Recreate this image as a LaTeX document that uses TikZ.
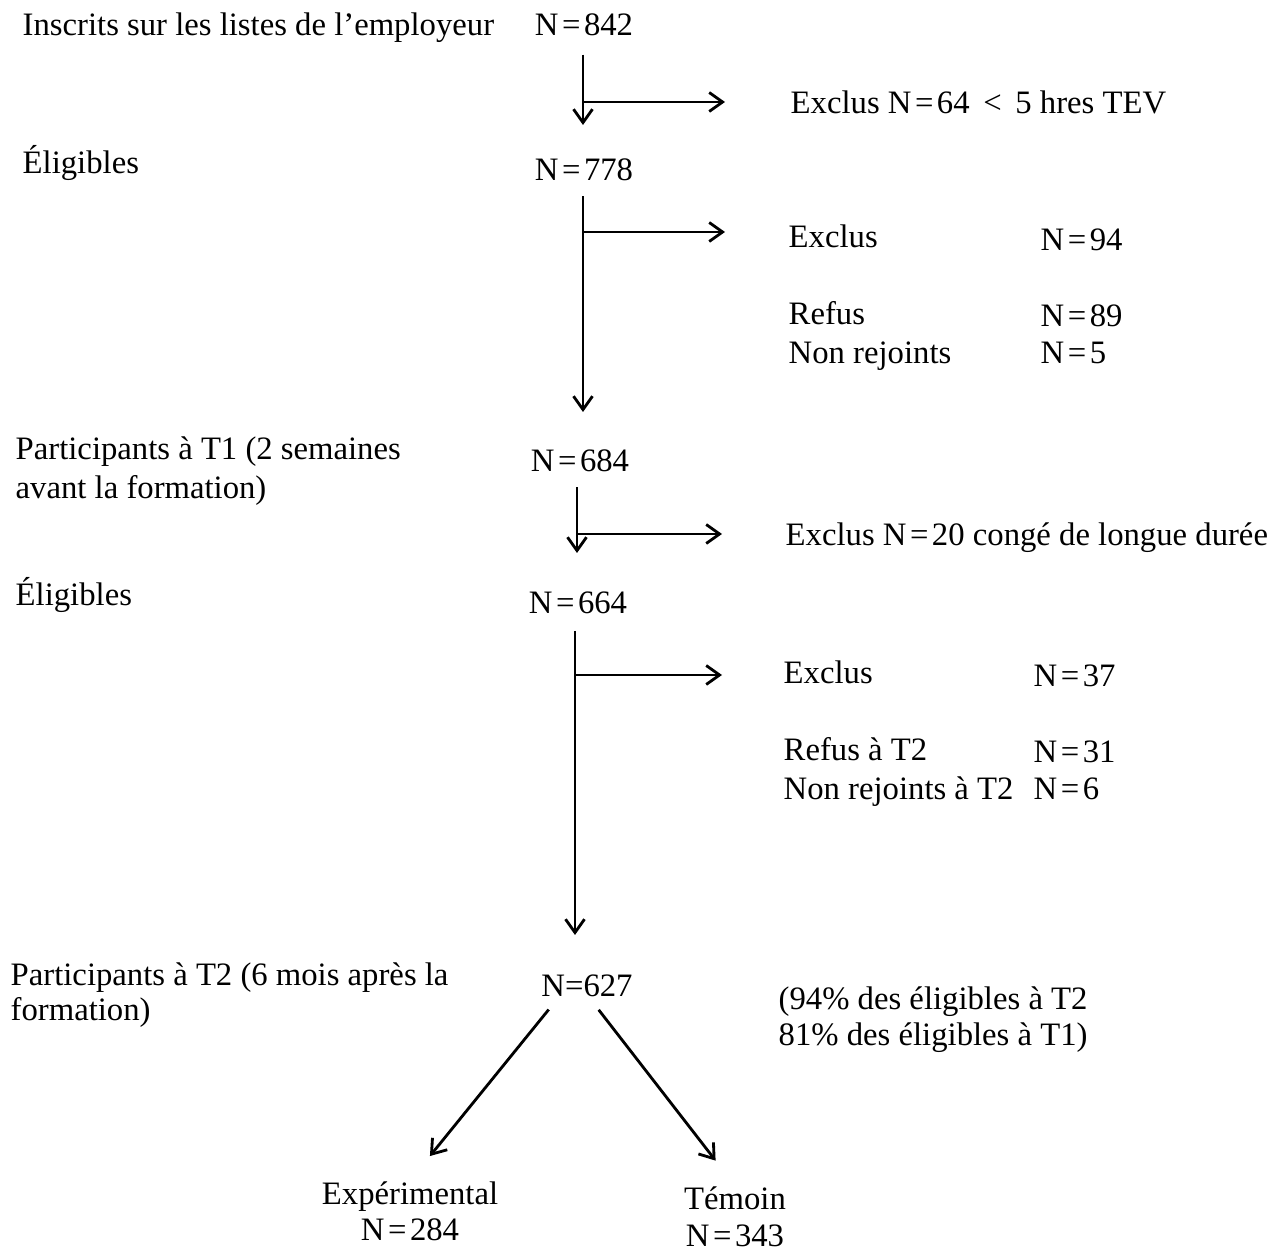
\documentclass[tikz,border=0pt]{standalone}
\usepackage{fontspec}
\setmainfont{Liberation Serif}
\usetikzlibrary{arrows.meta,positioning}
\newcommand{\Neq}{N\kern1pt=\kern1pt}

\begin{document}
\begin{tikzpicture}[x=0.01cm,y=-0.01cm]
            \tikzstyle{txt}=[anchor=base west,inner sep=0pt,font=\fontsize{9.3}{11.1}\selectfont]
            \tikzstyle{num}=[txt,anchor=base]
            \tikzstyle{flow}=[line width=0.8pt,-{Straight Barb[length=3.8pt,width=5.4pt]}]

            \useasboundingbox (0,0) rectangle (1284,1249);

            % left column (base = last line)
            \node[txt] (l1) at (22,36) {Inscrits sur les listes de l'employeur};
            \node[txt] (l2) at (22,174) {Éligibles};
            \node[txt,align=left] (l3) at (15,499) {Participants à T1 (2 semaines\\avant la formation)};
            \node[txt] (l4) at (15,606) {Éligibles};
            \node[txt,align=left,font=\fontsize{9.3}{10}\selectfont] (l5) at (10,1021) {Participants à T2 (6 mois après la\\formation)};

            % counts
            \node[num] (n842) at (584,36) {\Neq842};
            \node[num] (n778) at (584,181) {\Neq778};
            \node[num] (n684) at (580,472) {\Neq684};
            \node[num] (n664) at (578,614) {\Neq664};
            \node[num] (n627) at (587,996) {N=627};

            % exclusions
            \node[txt] (ex1) at (790,114) {Exclus \Neq64 \,<\, 5 hres TEV};
            \node[txt] (ex2) at (788,248) {Exclus};
            \node[txt] (ex2n) at (1040,251) {\Neq94};
            \node[txt] (rf2) at (788,325) {Refus};
            \node[txt] (rf2n) at (1040,327) {\Neq89};
            \node[txt] (nr2) at (788,364) {Non rejoints};
            \node[txt] (nr2n) at (1040,364) {\Neq5};
            \node[txt] (ex3) at (785,546) {Exclus \Neq20 congé de longue durée};
            \node[txt] (ex4) at (783,684) {Exclus};
            \node[txt] (ex4n) at (1033,687) {\Neq37};
            \node[txt] (rf4) at (783,761) {Refus à T2};
            \node[txt] (rf4n) at (1033,763) {\Neq31};
            \node[txt] (nr4) at (783,800) {Non rejoints à T2};
            \node[txt] (nr4n) at (1033,800) {\Neq6};
            \node[txt,align=left,font=\fontsize{9.3}{10.5}\selectfont] (pct) at (778,1046) {(94\% des éligibles à T2\\81\% des éligibles à T1)};

            % groups
            \node[num,align=center,font=\fontsize{9.3}{10.5}\selectfont] (exp) at (410,1241) {Expérimental\\\Neq284};
            \node[num,align=center,font=\fontsize{9.3}{10.5}\selectfont] (tem) at (735,1246) {Témoin\\\Neq343};

            % arrow ends and branch points
            \coordinate (t1) at (583,125);
            \coordinate (t2) at (583,412);
            \coordinate (t3) at (577,553);
            \coordinate (t4) at (575,935);
            \coordinate (b1) at (583,102);  \coordinate (h1) at (725,102);
            \coordinate (b2) at (583,232);  \coordinate (h2) at (725,232);
            \coordinate (b3) at (577,534);  \coordinate (h3) at (722,534);
            \coordinate (b4) at (575,675);  \coordinate (h4) at (722,675);

            \draw[flow,shorten <=5pt] (n842.south -| t1) -- (t1);
            \draw[flow,shorten <=4pt] (n778.south -| t2) -- (t2);
            \draw[flow,shorten <=4pt] (n684.south -| t3) -- (t3);
            \draw[flow,shorten <=4.5pt] (n664.south -| t4) -- (t4);

            \draw[flow] (b1) -- (h1);
            \draw[flow] (b2) -- (h2);
            \draw[flow] (b3) -- (h3);
            \draw[flow] (b4) -- (h4);

            \draw[flow,shorten <=4.6pt,shorten >=9pt] ([xshift=-8pt]n627.south) -- (exp.north);
            \draw[flow,shorten <=4.6pt,shorten >=9pt] ([xshift=0.5pt]n627.south) -- (tem.north);
        \end{tikzpicture}
\end{document}
